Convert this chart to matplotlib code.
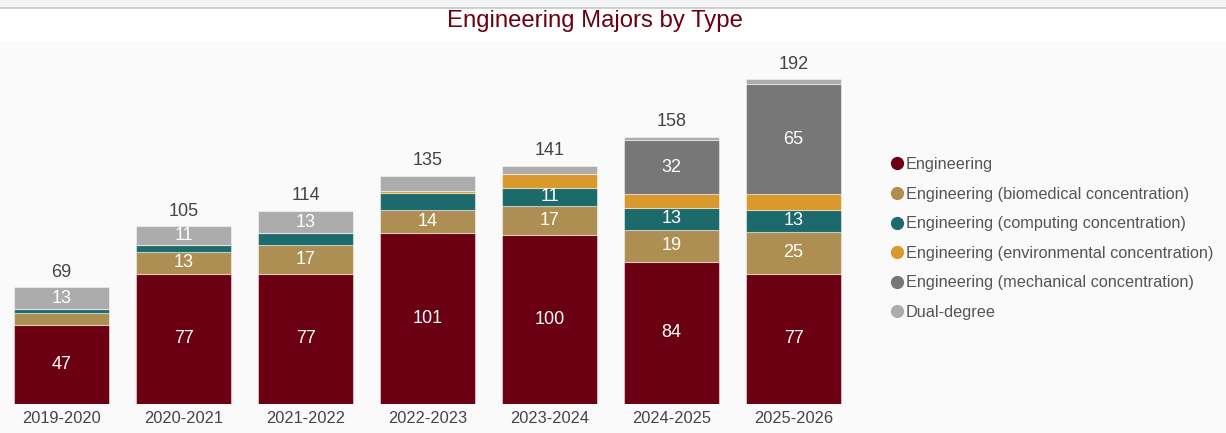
import matplotlib
matplotlib.use("Agg")
import matplotlib.pyplot as plt
from matplotlib.lines import Line2D
from matplotlib.patches import Rectangle
import numpy as np

years = ["2019-2020", "2020-2021", "2021-2022", "2022-2023", "2023-2024", "2024-2025", "2025-2026"]
engineering = [47, 77, 77, 101, 100, 84, 77]
biomedical = [7, 13, 17, 14, 17, 19, 25]
computing = [2, 4, 7, 10, 11, 13, 13]
environmental = [0, 0, 0, 1, 8, 8, 9]
mechanical = [0, 0, 0, 0, 0, 32, 65]
dual_degree = [13, 11, 13, 9, 5, 2, 3]

series_names = ["Engineering", "Engineering (biomedical concentration)",
                "Engineering (computing concentration)",
                "Engineering (environmental concentration)",
                "Engineering (mechanical concentration)", "Dual-degree"]
series_vals = [engineering, biomedical, computing, environmental, mechanical, dual_degree]
colors = ["#6a0011", "#ad8f53", "#1d6a6c", "#d9992b", "#777777", "#acacac"]

plt.rcParams['font.family'] = ['Liberation Sans', 'DejaVu Sans']

W, H = 1226, 433
fig = plt.figure(figsize=(W / 100, H / 100), dpi=100)
fig.patch.set_facecolor("white")

# backgrounds
fig.add_artist(Rectangle((0, 0), 1, (H - 41) / H, transform=fig.transFigure,
                         facecolor="#fafafa", edgecolor="none", zorder=-5))
fig.add_artist(Rectangle((0, (H - 7) / H), 1, 7 / H, transform=fig.transFigure,
                         facecolor="#f3f4f6", edgecolor="none", zorder=-5))
fig.add_artist(Line2D([0, 1], [(H - 7.5) / H, (H - 7.5) / H], transform=fig.transFigure,
                      color="#c8c8c8", lw=1.2, zorder=-4))

base_px = 404
top_px = 41
scale = (404 - 79.3) / 192.0
ax_left, ax_right = 0.5, 854.5
ax = fig.add_axes([ax_left / W, (H - base_px) / H, (ax_right - ax_left) / W, (base_px - top_px) / H])
ax.set_zorder(2)
ax.set_facecolor("none")
ax.set_xlim(-0.5, 6.5)
ax.set_ylim(0, (base_px - top_px) / scale)

x = np.arange(len(years))
bottom = np.zeros(len(years))
for name, vals, c in zip(series_names, series_vals, colors):
    vals = np.array(vals, dtype=float)
    ax.bar(x, vals, bottom=bottom, width=0.78, color=c, edgecolor=(1, 1, 1, 0.45),
           linewidth=0.8, label=name, zorder=2)
    for xi, v, b in zip(x, vals, bottom):
        if v >= 11:
            ax.text(xi, b + v / 2, f"{int(v)}", ha="center", va="center",
                    color="white", fontsize=13, zorder=3)
    bottom += vals

for xi, t in zip(x, bottom):
    ax.text(xi, t + 4, f"{int(t)}", ha="center", va="bottom", color="#444444", fontsize=13)

for s in ax.spines.values():
    s.set_visible(False)
ax.set_yticks([])
ax.set_xticks(x)
ax.set_xticklabels(years, fontsize=11.8, color="#444444")
ax.tick_params(axis="x", length=0, pad=5)

fig.text(595 / W, 1 - 21 / H, "Engineering Majors by Type", ha="center", va="center",
         color="#6a0011", fontsize=17.2)

handles = [Line2D([0], [0], marker="o", color="none", markerfacecolor=c, markeredgecolor=c,
                  markersize=8.5) for c in colors]
leg = fig.legend(handles, series_names, loc="upper left",
                 bbox_to_anchor=(892 / W, 1 - 157 / H), frameon=False,
                 fontsize=11.7, handlelength=0.6, handletextpad=0.25,
                 labelspacing=0.9, borderaxespad=0, borderpad=0)
for t in leg.get_texts():
    t.set_color("#555555")

fig.savefig("out.png", dpi=100, facecolor=fig.get_facecolor())
